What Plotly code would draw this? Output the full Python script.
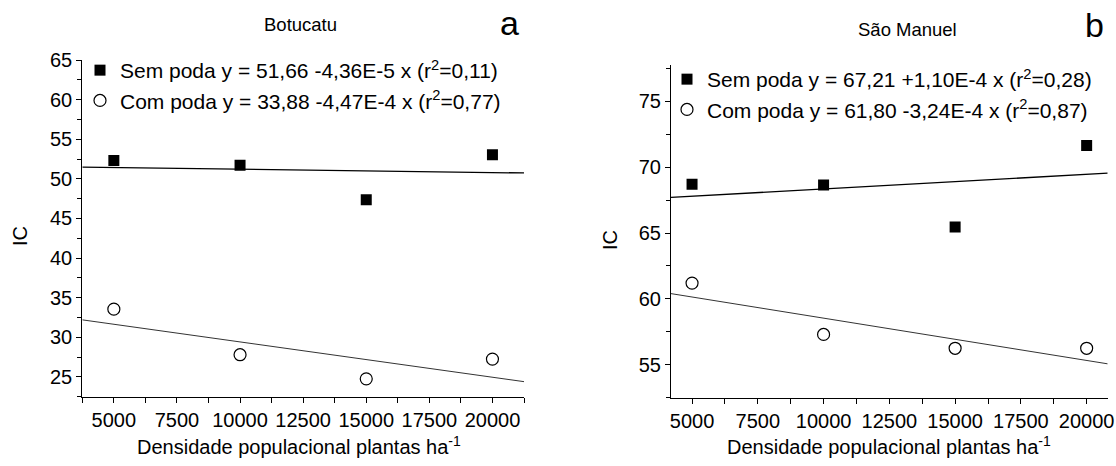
import plotly.graph_objects as go

W, H = 1116, 466

# ---------------- data ----------------
density = [5000, 10000, 15000, 20000]

bot_sem = [52.3, 51.7, 47.35, 53.05]     # Botucatu, Sem poda
bot_com = [33.55, 27.8, 24.75, 27.25]    # Botucatu, Com poda
sm_sem = [68.7, 68.65, 65.45, 71.65]     # São Manuel, Sem poda
sm_com = [61.2, 57.3, 56.25, 56.25]      # São Manuel, Com poda

bot_fit_x = [3750, 21250]
bot_fit_sem = [51.47, 50.74]
bot_fit_com = [32.2, 24.4]
sm_fit_x = [4200, 20800]
sm_fit_sem = [67.7, 69.54]
sm_fit_com = [60.4, 55.07]

bot_labels = ["Sem poda y = 51,66 -4,36E-5 x (r<sup>2</sup>=0,11)",
              "Com poda y = 33,88 -4,47E-4 x (r<sup>2</sup>=0,77)"]
sm_labels = ["Sem poda y = 67,21 +1,10E-4 x (r<sup>2</sup>=0,28)",
             "Com poda y = 61,80 -3,24E-4 x (r<sup>2</sup>=0,87)"]

panel_titles = ["Botucatu", "São Manuel"]
panel_letters = ["a", "b"]
x_title = "Densidade populacional plantas ha<sup>-1</sup>"
y_title = "IC"

FONT = "Arial, Liberation Sans, sans-serif"


def px(x):
    return x / W


def py(y):
    return 1 - y / H


fig = go.Figure()

sq = dict(symbol="square", size=11, color="black", line=dict(width=0))
ci = dict(symbol="circle-open", size=12, color="black", line=dict(width=1.2, color="black"))

# Botucatu
fig.add_trace(go.Scatter(x=density, y=bot_sem, mode="markers", marker=sq,
                         name=bot_labels[0], xaxis="x", yaxis="y", legend="legend"))
fig.add_trace(go.Scatter(x=density, y=bot_com, mode="markers", marker=ci,
                         name=bot_labels[1], xaxis="x", yaxis="y", legend="legend"))
fig.add_trace(go.Scatter(x=bot_fit_x, y=bot_fit_sem, mode="lines", line=dict(color="black", width=1.3),
                         showlegend=False, xaxis="x", yaxis="y"))
fig.add_trace(go.Scatter(x=bot_fit_x, y=bot_fit_com, mode="lines", line=dict(color="#333333", width=1),
                         showlegend=False, xaxis="x", yaxis="y"))

# São Manuel
fig.add_trace(go.Scatter(x=density, y=sm_sem, mode="markers", marker=sq,
                         name=sm_labels[0], xaxis="x2", yaxis="y2", legend="legend2"))
fig.add_trace(go.Scatter(x=density, y=sm_com, mode="markers", marker=ci,
                         name=sm_labels[1], xaxis="x2", yaxis="y2", legend="legend2"))
fig.add_trace(go.Scatter(x=sm_fit_x, y=sm_fit_sem, mode="lines", line=dict(color="black", width=1.3),
                         showlegend=False, xaxis="x2", yaxis="y2"))
fig.add_trace(go.Scatter(x=sm_fit_x, y=sm_fit_com, mode="lines", line=dict(color="#333333", width=1),
                         showlegend=False, xaxis="x2", yaxis="y2"))

axis_common = dict(showline=True, linecolor="black", linewidth=1.2, ticks="outside", ticklen=5,
                   tickwidth=1.2, tickcolor="black", showgrid=False, zeroline=False,
                   tickformat="d", separatethousands=False, automargin=False,
                   tickfont=dict(family=FONT, size=20, color="black"), mirror=False)

fig.update_layout(
    width=W, height=H,
    margin=dict(l=0, r=0, t=0, b=0),
    paper_bgcolor="white", plot_bgcolor="white",
    font=dict(family=FONT, color="black"),
    xaxis=dict(domain=[px(82.3), px(524)], range=[3750, 21250], tick0=5000, dtick=2500,
               minor=dict(dtick=1250, tick0=5000, ticks="outside", ticklen=5, tickwidth=1.2, tickcolor="black"),
               anchor="y", **axis_common),
    yaxis=dict(domain=[py(396.7), py(60)], range=[22.5, 65], tick0=25, dtick=5,
               minor=dict(dtick=2.5, tick0=25, ticks="outside", ticklen=4, tickwidth=1.2, tickcolor="black"),
               anchor="x", **axis_common),
    xaxis2=dict(domain=[px(671), px(1107.7)], range=[4200, 20800], tick0=5000, dtick=2500,
                minor=dict(dtick=1250, tick0=5000, ticks="outside", ticklen=5, tickwidth=1.2, tickcolor="black"),
                anchor="y2", **axis_common),
    yaxis2=dict(domain=[py(397.7), py(65)], range=[52.5, 77.75], tick0=55, dtick=5,
                minor=dict(dtick=2.5, tick0=55, ticks="outside", ticklen=4, tickwidth=1.2, tickcolor="black"),
                anchor="x2", **axis_common),
    legend=dict(x=px(80), y=py(50), xanchor="left", yanchor="top", bgcolor="rgba(0,0,0,0)",
                font=dict(family=FONT, size=21, color="black"), tracegroupgap=0, itemwidth=30),
    legend2=dict(x=px(667), y=py(59), xanchor="left", yanchor="top", bgcolor="rgba(0,0,0,0)",
                 font=dict(family=FONT, size=21, color="black"), tracegroupgap=0, itemwidth=30),
    showlegend=True,
)

ann = []
# panel titles and letters
ann.append(dict(x=px(300), y=py(25), text=panel_titles[0], font=dict(size=18.5)))
ann.append(dict(x=px(907), y=py(30), text=panel_titles[1], font=dict(size=18.5)))
ann.append(dict(x=px(509), y=py(23), text=panel_letters[0], font=dict(size=34)))
ann.append(dict(x=px(1094), y=py(25), text=panel_letters[1], font=dict(size=34)))
# axis titles
ann.append(dict(x=px(299), y=py(445), text=x_title, font=dict(size=20)))
ann.append(dict(x=px(889), y=py(445), text=x_title, font=dict(size=20)))
ann.append(dict(x=px(20), y=py(236), text=y_title, textangle=-90, font=dict(size=20)))
ann.append(dict(x=px(610), y=py(240), text=y_title, textangle=-90, font=dict(size=20)))

for a in ann:
    a.update(xref="paper", yref="paper", showarrow=False, xanchor="center", yanchor="middle")
    a["font"].update(family=FONT, color="black")
fig.update_layout(annotations=ann)

fig.write_html("out.html")
